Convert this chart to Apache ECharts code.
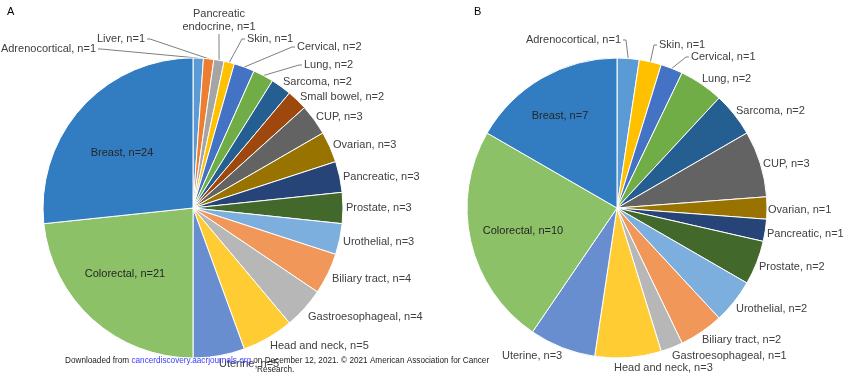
<!DOCTYPE html>
<html><head><meta charset="utf-8">
<script src="https://cdn.jsdelivr.net/npm/echarts@6/dist/echarts.min.js"></script>
<style>html,body{margin:0;padding:0;background:#fff}#c{width:846px;height:378px}</style>
</head><body><div id="c"></div>
<script>
const categoriesA = ['Adrenocortical','Liver','Pancreatic\nendocrine','Skin','Cervical','Lung','Sarcoma','Small bowel','CUP','Ovarian','Pancreatic','Prostate','Urothelial','Biliary tract','Gastroesophageal','Head and neck','Uterine','Colorectal','Breast'];
const valuesA = [1,1,1,1,2,2,2,2,3,3,3,3,3,4,4,5,5,21,24];
const categoriesB = ['Adrenocortical','Skin','Cervical','Lung','Sarcoma','CUP','Ovarian','Pancreatic','Prostate','Urothelial','Biliary tract','Gastroesophageal','Head and neck','Uterine','Colorectal','Breast'];
const valuesB = [1,1,1,2,2,3,1,1,2,2,2,1,3,3,10,7];

const colorMap = {
  'Adrenocortical':'#5B9BD5','Liver':'#ED7D31','Pancreatic\nendocrine':'#A5A5A5','Skin':'#FFC000',
  'Cervical':'#4472C4','Lung':'#70AD47','Sarcoma':'#255E91','Small bowel':'#9E480E','CUP':'#636363',
  'Ovarian':'#997300','Pancreatic':'#264478','Prostate':'#43682B','Urothelial':'#7CAFDD',
  'Biliary tract':'#F1975A','Gastroesophageal':'#B7B7B7','Head and neck':'#FFCD33','Uterine':'#698ED0',
  'Colorectal':'#8CC168','Breast':'#327DC2'
};
const insideNames = ['Colorectal','Breast'];

// label placement (text anchor x, y, align, leader line?)
const labelPlaceA = {
  'Adrenocortical': [96, 49, 'right', true],
  'Liver': [145, 39, 'right', true],
  'Pancreatic\nendocrine': [219, 20, 'center', true],
  'Skin': [247, 39, 'left', true],
  'Cervical': [297, 47, 'left', true],
  'Lung': [304, 65, 'left', true],
  'Sarcoma': [283, 82, 'left'],
  'Small bowel': [300, 97, 'left'],
  'CUP': [316, 117, 'left'],
  'Ovarian': [333, 145, 'left'],
  'Pancreatic': [343, 177, 'left'],
  'Prostate': [346, 208, 'left'],
  'Urothelial': [343, 242, 'left'],
  'Biliary tract': [332, 279, 'left'],
  'Gastroesophageal': [308, 317, 'left'],
  'Head and neck': [270, 346, 'left'],
  'Uterine': [219, 364, 'left'],
  'Colorectal': [125, 274, 'center'],
  'Breast': [122, 153, 'center']
};
const labelPlaceB = {
  'Adrenocortical': [621, 40, 'right', true],
  'Skin': [659, 45, 'left', true],
  'Cervical': [691, 57, 'left', true],
  'Lung': [702, 79, 'left'],
  'Sarcoma': [736, 111, 'left'],
  'CUP': [763, 164, 'left'],
  'Ovarian': [768, 210, 'left'],
  'Pancreatic': [767, 234, 'left'],
  'Prostate': [759, 267, 'left'],
  'Urothelial': [736, 309, 'left'],
  'Biliary tract': [702, 340, 'left'],
  'Gastroesophageal': [672, 356, 'left'],
  'Head and neck': [614, 368, 'left'],
  'Uterine': [502, 356, 'left'],
  'Colorectal': [523, 231, 'center'],
  'Breast': [560, 116, 'center']
};

function build(cats, vals, place) {
  return cats.map((c, i) => {
    const d = { name: c, value: vals[i], itemStyle: { color: colorMap[c] } };
    if (insideNames.includes(c)) {
      d.label = { position: 'inside', color: '#262626' };
    }
    if (!place[c][3]) d.labelLine = { show: false };
    return d;
  });
}

const FONT = 'Liberation Sans, Arial, sans-serif';

function makeLayout(cats, place) {
  return function (params) {
    const name = cats[params.dataIndex];
    const p = place[name];
    const out = { x: p[0], y: p[1], align: p[2], verticalAlign: 'middle' };
    if (p[3] && params.labelLinePoints) {
      const a = params.labelLinePoints[0];
      const r = params.labelRect;
      let edge, bend;
      if (p[2] === 'center') {
        edge = [p[0], p[1] + r.height / 2 + 1];
        bend = [p[0], edge[1] + 2];
      } else if (p[2] === 'right') {
        edge = [p[0] + 2, p[1]];
        bend = [p[0] + 5, p[1]];
      } else {
        edge = [p[0] - 2, p[1]];
        bend = [p[0] - 5, p[1]];
      }
      out.labelLinePoints = [a, bend, edge];
    }
    return out;
  };
}

function pieSeries(cats, vals, center, place) {
  return {
    type: 'pie',
    center: center,
    radius: [0, 150],
    startAngle: 90,
    clockwise: true,
    animation: false,
    avoidLabelOverlap: false,
    itemStyle: { borderColor: '#fff', borderWidth: 1 },
    label: { position: 'outside', alignTo: 'none', formatter: p => p.name + ', n=' + p.value, lineHeight: 13,
             fontFamily: FONT, fontSize: 11, color: '#404040' },
    labelLine: { show: true, length: 4, length2: 4, lineStyle: { color: '#7f7f7f', width: 1 } },
    labelLayout: makeLayout(cats, place),
    data: build(cats, vals, place)
  };
}

const chart = echarts.init(document.getElementById('c'), null, { renderer: 'canvas' });
chart.setOption({
  backgroundColor: '#fff',
  series: [pieSeries(categoriesA, valuesA, [193, 208], labelPlaceA), pieSeries(categoriesB, valuesB, [617, 208], labelPlaceB)],
  graphic: [
    { type: 'text', left: 7, top: 6, style: { text: 'A', fontFamily: FONT, fontSize: 11, fill: '#000' } },
    { type: 'text', left: 474, top: 6, style: { text: 'B', fontFamily: FONT, fontSize: 11, fill: '#000' } },
    { type: 'text', left: 65, top: 357, z: 100, style: { rich: { a: { fill: '#222', fontSize: 8.2, fontFamily: FONT }, b: { fill: '#3b3bff', fontSize: 8.2, fontFamily: FONT } }, text: '{a|Downloaded from }{b|cancerdiscovery.aacrjournals.org}{a| on December 12, 2021. © 2021 American Association for Cancer}' } },
    { type: 'text', left: 257, top: 366, z: 100, style: { text: 'Research.', fill: '#222', fontSize: 8.2, fontFamily: FONT } }
  ]
});
</script></body></html>
